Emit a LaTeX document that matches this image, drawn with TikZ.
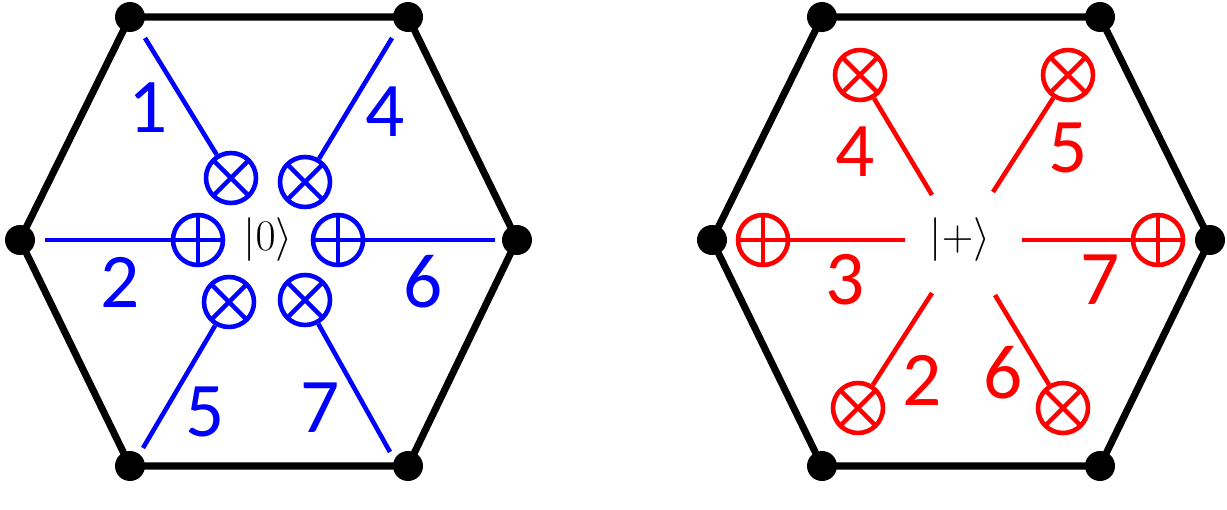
\documentclass[tikz,border=0pt]{standalone}
\usepackage{fontspec}
\setmainfont{Carlito}
\usetikzlibrary{positioning}
\tikzset{
  hexedge/.style={line width=4pt, line join=round},
  vtx/.style={circle, fill=black, minimum size=0.6cm, inner sep=0pt},
  otimesgate/.style={circle, draw, line width=2.6pt, minimum size=1cm, inner sep=0pt,
    path picture={\draw[line width=2.6pt] (path picture bounding box.north west) -- (path picture bounding box.south east)
      (path picture bounding box.north east) -- (path picture bounding box.south west);}},
  oplusgate/.style={circle, draw, line width=2.6pt, minimum size=1cm, inner sep=0pt,
    path picture={\draw[line width=2.6pt] (path picture bounding box.north) -- (path picture bounding box.south)
      (path picture bounding box.east) -- (path picture bounding box.west);}},
  wire/.style={line width=2.6pt},
  num/.style={font=\fontsize{44}{44}\selectfont},
  ket/.style={font=\fontsize{40}{40}\selectfont}
}
\begin{document}
\begin{tikzpicture}[x=0.02cm, y=-0.02cm]
\useasboundingbox (0,0) rectangle (1227,510);
% left hexagon
\coordinate (La) at (130,17);  \coordinate (Lb) at (408,17);
\coordinate (Lc) at (517,240); \coordinate (Ld) at (408,466);
\coordinate (Le) at (130,466); \coordinate (Lf) at (20,240);
\draw[hexedge] (La) -- (Lb) -- (Lc) -- (Ld) -- (Le) -- (Lf) -- cycle;
\foreach \n in {a,b,c,d,e,f} \node[vtx] at (L\n) {};
\node[ket] (zero) at (268,240) {$|0\rangle$};
\begin{scope}[blue]
  \node[otimesgate] (g1) at (231,178) {};
  \node[otimesgate] (g4) at (305,182) {};
  \node[oplusgate] (g2) at (198,240) {};
  \node[oplusgate] (g6) at (338,240) {};
  \node[otimesgate] (g5) at (229,302) {};
  \node[otimesgate] (g7) at (305,300) {};
  \coordinate (w1) at (145,38);  \coordinate (w4) at (392,38);
  \coordinate (w2) at (45,240);  \coordinate (w6) at (495,240);
  \coordinate (w5) at (143,448); \coordinate (w7) at (390,452);
  \foreach \k in {1,2,4,5,6,7} \draw[wire] (w\k) -- (g\k);
  \node[num] (n1) at (148,108) {1};
  \node[num] (n4) at (385,112) {4};
  \node[num] (n2) at (120,282) {2};
  \node[num] (n6) at (423,282) {6};
  \node[num] (n5) at (205,412) {5};
  \node[num] (n7) at (320,408) {7};
\end{scope}
% right hexagon
\coordinate (Ra) at (822,17);   \coordinate (Rb) at (1100,17);
\coordinate (Rc) at (1210,240); \coordinate (Rd) at (1100,466);
\coordinate (Re) at (822,466);  \coordinate (Rf) at (712,240);
\draw[hexedge] (Ra) -- (Rb) -- (Rc) -- (Rd) -- (Re) -- (Rf) -- cycle;
\foreach \n in {a,b,c,d,e,f} \node[vtx] at (R\n) {};
\node[ket] (plus) at (960,240) {$|+\rangle$};
\begin{scope}[red]
  \node[otimesgate] (h4) at (860,75) {};
  \node[otimesgate] (h5) at (1068,75) {};
  \node[oplusgate] (h3) at (763,240) {};
  \node[oplusgate] (h7) at (1158,240) {};
  \node[otimesgate] (h2) at (858,408) {};
  \node[otimesgate] (h6) at (1063,408) {};
  \coordinate (v4) at (932,195);  \coordinate (v5) at (993,192);
  \coordinate (v3) at (905,240);  \coordinate (v7) at (1022,240);
  \coordinate (v2) at (932,293);  \coordinate (v6) at (995,295);
  \foreach \k in {2,3,4,5,6,7} \draw[wire] (v\k) -- (h\k);
  \node[num] (m4) at (855,152) {4};
  \node[num] (m5) at (1068,148) {5};
  \node[num] (m3) at (845,280) {3};
  \node[num] (m7) at (1100,280) {7};
  \node[num] (m2) at (922,380) {2};
  \node[num] (m6) at (1003,373) {6};
\end{scope}
\end{tikzpicture}
\end{document}
